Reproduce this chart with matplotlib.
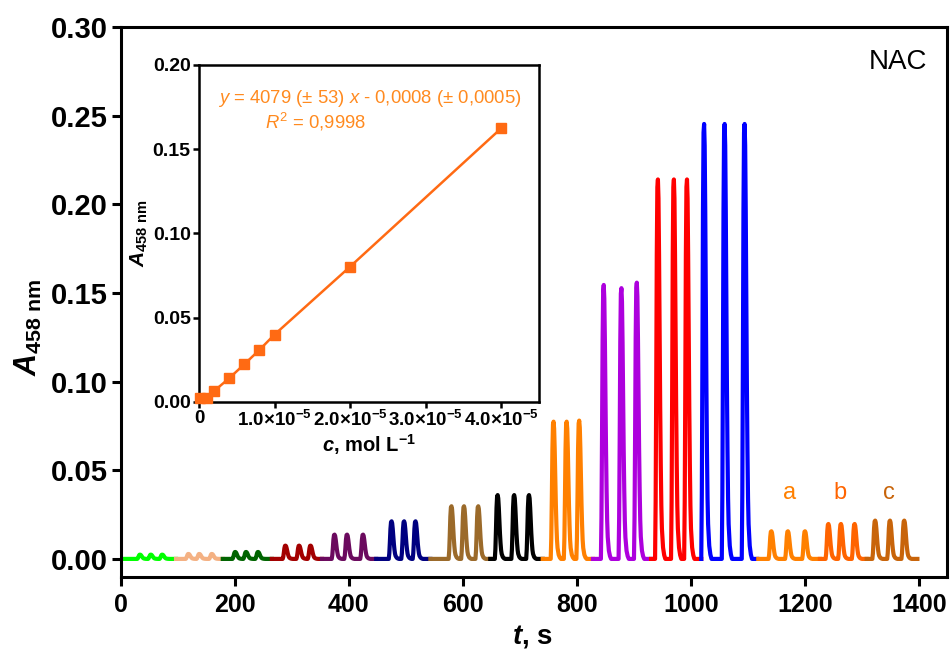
import numpy as np
import matplotlib
matplotlib.use('Agg')
import matplotlib.pyplot as plt
from matplotlib import font_manager

# fonts: Arial-like, with a narrow bold for the squeezed x axis labels if present
plt.rcParams['font.family'] = 'Liberation Sans'
plt.rcParams['mathtext.fontset'] = 'custom'
plt.rcParams['mathtext.rm'] = 'Liberation Sans'
plt.rcParams['mathtext.it'] = 'Liberation Sans:italic'
plt.rcParams['mathtext.bf'] = 'Liberation Sans:bold'
plt.rcParams['mathtext.bfit'] = 'Liberation Sans:italic:bold'

names = set(f.name for f in font_manager.fontManager.ttflist)
narrow = 'Liberation Sans Narrow' if 'Liberation Sans Narrow' in names else 'Liberation Sans'
xtick_size = 20 if narrow != 'Liberation Sans' else 18

# ---- FIA recording: one trace per standard / sample ----
group_colors = ['#00FF00', '#F4B183', '#006400', '#A30000', '#6B0A5E', '#000080',
                '#9B6A2A', '#000000', '#FF8000', '#AD00DD', '#FF0000', '#0000FF',
                '#FF8000', '#FF6400', '#C8640A']
group_start = [0, 97, 179, 265, 353, 448, 543, 648, 740, 828, 930, 1018, 1118, 1226, 1308]
group_end = [97, 179, 265, 353, 448, 543, 648, 740, 828, 930, 1018, 1116, 1226, 1308, 1397]
peak_times = [[34, 53, 73], [119, 138, 160], [201, 220, 241], [289, 313, 333],
              [375, 397, 425], [475, 497, 517], [580, 602, 627], [661, 690, 716],
              [759, 782, 804], [847, 878, 905], [942, 970, 993], [1023, 1059, 1094],
              [1141, 1170, 1200], [1241, 1263, 1287], [1323, 1349, 1374]]
peak_heights = [[0.0024, 0.0024, 0.0024], [0.0028, 0.0028, 0.0028], [0.0039, 0.0039, 0.0039],
                [0.0075, 0.0075, 0.0075], [0.0137, 0.0137, 0.0137], [0.0212, 0.0212, 0.0212],
                [0.0297, 0.0297, 0.0297], [0.0360, 0.0360, 0.0360], [0.0774, 0.0774, 0.0780],
                [0.1545, 0.1527, 0.1558], [0.2140, 0.2140, 0.2140], [0.2453, 0.2453, 0.2453],
                [0.0156, 0.0156, 0.0156], [0.0197, 0.0197, 0.0197], [0.0216, 0.0216, 0.0216]]
profile_dt = [-5, -4, -3, -2, -1, 0, 1, 2, 3, 4, 5, 6, 7, 9, 11, 13]
profile_rel = [0.0, 0.15, 0.45, 0.8, 0.98, 1.0, 0.95, 0.8, 0.6, 0.4, 0.25, 0.14, 0.08, 0.03, 0.01, 0.0]

sample_labels = ['a', 'b', 'c']
sample_label_t = [1173, 1261, 1347]
sample_label_colors = ['#FF8000', '#FF6400', '#C8640A']

# ---- calibration (inset) ----
conc = [2e-7, 1e-6, 2e-6, 4e-6, 6e-6, 8e-6, 1e-5, 2e-5, 4e-5]
absorb = [0.0022, 0.0022, 0.0065, 0.0141, 0.0224, 0.0309, 0.0400, 0.0803, 0.1624]

main_yticks = [0.00, 0.05, 0.10, 0.15, 0.20, 0.25, 0.30]
main_xticks = [0, 200, 400, 600, 800, 1000, 1200, 1400]
ins_yticks = [0.00, 0.05, 0.10, 0.15, 0.20]
ins_xticks = [0, 1e-5, 2e-5, 3e-5, 4e-5]
ins_xticklabels = ['0', '1.0\u00d710$^{\\mathbf{-5}}$', '2.0\u00d710$^{\\mathbf{-5}}$',
                   '3.0\u00d710$^{\\mathbf{-5}}$', '4.0\u00d710$^{\\mathbf{-5}}$']

fig = plt.figure(figsize=(9.52, 6.53), dpi=100)
ax = fig.add_axes([0.1268, 0.1164, 0.8680, 0.8423])

for i in range(len(group_colors)):
    t = [group_start[i]]
    a = [0.0]
    for tc, h in zip(peak_times[i], peak_heights[i]):
        t += [tc + d for d in profile_dt]
        a += [h * r for r in profile_rel]
    t.append(group_end[i])
    a.append(0.0)
    ax.plot(t, a, color=group_colors[i], lw=3.0, solid_joinstyle='round')

for lab, tl, col in zip(sample_labels, sample_label_t, sample_label_colors):
    ax.text(tl, 0.037, lab, color=col, fontsize=17, ha='center', va='center')

ax.text(0.941, 0.936, 'NAC', transform=ax.transAxes, fontsize=20, ha='center', va='center')

ax.set_xlim(0, 1449)
ax.set_ylim(-0.0102, 0.30)
ax.set_yticks(main_yticks)
ax.set_yticklabels(['%.2f' % v for v in main_yticks], fontsize=21, fontweight='bold')
ax.set_xticks(main_xticks)
ax.set_xticklabels([str(v) for v in main_xticks], fontsize=xtick_size, fontweight='bold', family=narrow)
ax.tick_params(width=2.2, length=6.5, direction='out')
ax.tick_params(axis='y', pad=3)
ax.tick_params(axis='x', pad=5)
for s in ax.spines.values():
    s.set_linewidth(2.2)

ax.set_xlabel(r'$\mathbfit{t}$, s', fontsize=20, fontweight='bold', family=narrow)
ax.xaxis.set_label_coords(0.498, -0.084)
ax.set_ylabel(r'$\mathbfit{A}_{\mathbf{458\ nm}}$', fontsize=22)
ax.yaxis.set_label_coords(-0.093, 0.4545)

# inset
ins = fig.add_axes([0.2090, 0.3844, 0.3571, 0.5161])
ins.plot(conc, absorb, '-s', color='#FF6A13', ms=6.5, lw=1.8, clip_on=False, zorder=3)
ins.set_xlim(0, 4.5e-5)
ins.set_ylim(0, 0.20)
ins.set_yticks(ins_yticks)
ins.set_yticklabels(['%.2f' % v for v in ins_yticks], fontsize=14, fontweight='bold')
ins.set_xticks(ins_xticks)
ins.set_xticklabels(ins_xticklabels, fontsize=13.5, fontweight='bold')
ins.tick_params(width=1.8, length=4, direction='out', pad=2)
for s in ins.spines.values():
    s.set_linewidth(1.8)
ins.set_xlabel(r'$\mathbfit{c}$, mol L$^{\mathbf{-1}}$', fontsize=14.5, fontweight='bold', labelpad=1)
ins.set_ylabel(r'$\mathbfit{A}_{\mathbf{458\ nm}}$', fontsize=15)
ins.yaxis.set_label_coords(-0.145, 0.5)

ins.text(0.056, 0.902, r'$y$ = 4079 ($\pm$ 53) $x$ - 0,0008 ($\pm$ 0,0005)', transform=ins.transAxes,
         color='#FF8A1F', fontsize=13.3, ha='left', va='center')
ins.text(0.194, 0.831, r'$R^2$ = 0,9998', transform=ins.transAxes,
         color='#FF8A1F', fontsize=13.3, ha='left', va='center')

fig.savefig('out.png', dpi=100)
